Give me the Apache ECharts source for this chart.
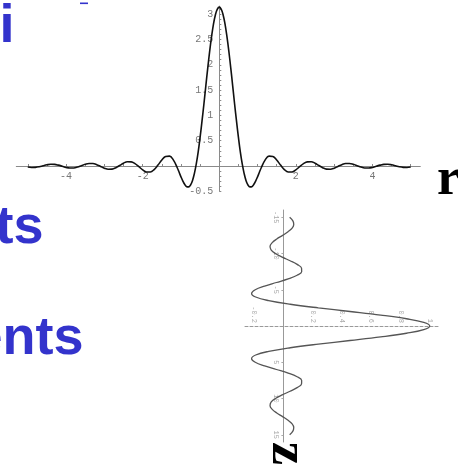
<!DOCTYPE html>
<html>
<head>
<meta charset="utf-8">
<script src="https://cdn.jsdelivr.net/npm/echarts@6/dist/echarts.min.js"></script>
<style>html,body{margin:0;padding:0;background:#fff;}#c{width:458px;height:469px;}</style>
</head>
<body>
<div id="c"></div>
<script>
// Top plot: radial profile f(r)
const rTop = [-5,-4.9,-4.8,-4.7,-4.6,-4.5,-4.4,-4.3,-4.2,-4.1,-4,-3.9,-3.8,-3.7,-3.6,-3.5,-3.4,-3.3,-3.2,-3.1,-3,-2.9,-2.8,-2.7,-2.6,-2.5,-2.4,-2.3,-2.2,-2.1,-2,-1.9,-1.8,-1.7,-1.6,-1.5,-1.4,-1.3,-1.2,-1.1,-1.05,-1,-0.95,-0.9,-0.85,-0.8,-0.75,-0.7,-0.65,-0.6,-0.55,-0.5,-0.45,-0.4,-0.35,-0.3,-0.25,-0.2,-0.15,-0.1,-0.05,
  0,0.05,0.1,0.15,0.2,0.25,0.3,0.35,0.4,0.45,0.5,0.55,0.6,0.65,0.7,0.75,0.8,0.85,0.9,0.95,1,1.05,1.1,1.2,1.3,1.4,1.5,1.6,1.7,1.8,1.9,2,2.1,2.2,2.3,2.4,2.5,2.6,2.7,2.8,2.9,3,3.1,3.2,3.3,3.4,3.5,3.6,3.7,3.8,3.9,4,4.1,4.2,4.3,4.4,4.5,4.6,4.7,4.8,4.9,5];
const fTop = [-0.020,-0.029,-0.027,-0.015,0.005,0.023,0.034,0.032,0.017,-0.005,-0.028,-0.041,-0.039,-0.021,0.007,0.034,0.050,0.048,0.026,-0.008,-0.043,-0.064,-0.061,-0.034,0.010,0.056,0.084,0.082,0.047,-0.013,-0.077,-0.119,-0.119,-0.070,0.019,0.118,0.189,0.196,0.121,-0.029,-0.120,-0.214,-0.298,-0.366,-0.408,-0.413,-0.375,-0.29,-0.15,0.04,0.28,0.57,0.89,1.23,1.59,1.94,2.27,2.56,2.81,2.99,3.10,
  3.14,3.10,2.99,2.81,2.56,2.27,1.94,1.59,1.23,0.89,0.57,0.28,0.04,-0.15,-0.29,-0.375,-0.413,-0.408,-0.366,-0.298,-0.214,-0.120,-0.029,0.121,0.196,0.189,0.118,0.019,-0.070,-0.119,-0.119,-0.077,-0.013,0.047,0.082,0.084,0.056,0.010,-0.034,-0.061,-0.064,-0.043,-0.008,0.026,0.048,0.050,0.034,0.007,-0.021,-0.039,-0.041,-0.028,-0.005,0.017,0.032,0.034,0.023,0.005,-0.015,-0.027,-0.029,-0.020];
const topXLabels = [-4,-2,2,4];
const topYLabels = [-0.5,0.5,1,1.5,2,2.5,3];
const topXTicks = [-5,-4.5,-4,-3.5,-3,-2.5,-2,-1.5,-1,-0.5,0.5,1,1.5,2,2.5,3,3.5,4,4.5,5];
const topYTicks = [-0.5,-0.4,-0.3,-0.2,-0.1,0.1,0.2,0.3,0.4,0.5,0.6,0.7,0.8,0.9,1,1.1,1.2,1.3,1.4,1.5,1.6,1.7,1.8,1.9,2,2.1,2.2,2.3,2.4,2.5,2.6,2.7,2.8,2.9,3,3.1];

// Rotated plot: axial profile along z
const zSide = [-15,-14.5,-14,-13.5,-13,-12.5,-12,-11.5,-11,-10.5,-10,-9.5,-9,-8.5,-8,-7.5,-7,-6.5,-6,-5.5,-5,-4.5,-4,-3.5,-3,-2.5,-2,-1.5,-1,-0.5,
  0,0.5,1,1.5,2,2.5,3,3.5,4,4.5,5,5.5,6,6.5,7,7.5,8,8.5,9,9.5,10,10.5,11,11.5,12,12.5,13,13.5,14,14.5,15];
const gSide = [0.043,0.065,0.071,0.060,0.032,-0.005,-0.045,-0.076,-0.091,-0.084,-0.054,-0.008,0.046,0.094,0.124,0.125,0.094,0.033,-0.047,-0.128,-0.192,-0.217,-0.189,-0.100,0.047,0.239,0.455,0.665,0.841,0.959,
  1,0.959,0.841,0.665,0.455,0.239,0.047,-0.100,-0.189,-0.217,-0.192,-0.128,-0.047,0.033,0.094,0.125,0.124,0.094,0.046,-0.008,-0.054,-0.084,-0.091,-0.076,-0.045,-0.005,0.032,0.060,0.071,0.065,0.043];
const sideValLabels = [-0.2,0.2,0.4,0.6,0.8,1];
const sideZLabels = [-15,-10,-5,5,10,15];

const chart = echarts.init(document.getElementById('c'), null, {renderer:'canvas'});
const gray = '#8a8a8a';
const mono = '"Liberation Mono", "DejaVu Sans Mono", monospace';
chart.setOption({
  animation: false,
  backgroundColor: '#ffffff',
  grid: [
    {left: 16.3, top: 6.1, width: 404, height: 185.2, containLabel: false, outerBoundsMode: 'none'},
    {left: 245, top: 210, width: 195, height: 232, containLabel: false, outerBoundsMode: 'none'}
  ],
  xAxis: [
    {gridIndex: 0, type: 'value', min: -5.3, max: 5.25, position: 'bottom', offset: -25.3,
     axisLine: {show: true, onZero: false, lineStyle: {color: gray, width: 1}},
     axisTick: {show: true, inside: true, length: 2, customValues: topXTicks, lineStyle: {color: gray}},
     axisLabel: {show: true, customValues: topXLabels, color: '#777', fontSize: 10, fontFamily: mono, margin: 5},
     splitLine: {show: false}},
    {gridIndex: 1, type: 'value', min: -0.262, max: 1.07, position: 'bottom', offset: -116,
     axisLine: {show: true, onZero: false, lineStyle: {color: '#999', width: 1, type: [3, 2]}},
     axisTick: {show: false},
     axisLabel: {show: true, inside: true, rotate: -90, customValues: sideValLabels, color: '#aaa', fontSize: 7, fontFamily: mono, margin: 3},
     splitLine: {show: false}}
  ],
  yAxis: [
    {gridIndex: 0, type: 'value', min: -0.5, max: 3.16, position: 'left', offset: -203,
     axisLine: {show: true, onZero: false, lineStyle: {color: gray, width: 1}},
     axisTick: {show: true, inside: true, length: 2, customValues: topYTicks, lineStyle: {color: gray}},
     axisLabel: {show: true, customValues: topYLabels, color: '#777', fontSize: 10, fontFamily: mono, margin: 6},
     splitLine: {show: false}},
    {gridIndex: 1, type: 'value', min: -16, max: 16, inverse: true, position: 'left', offset: -38.4,
     axisLine: {show: true, onZero: false, lineStyle: {color: '#999', width: 1}},
     axisTick: {show: true, length: 2, customValues: sideZLabels, lineStyle: {color: '#aaa'}},
     axisLabel: {show: true, rotate: -90, customValues: sideZLabels, color: '#aaa', fontSize: 7, fontFamily: mono, margin: 4},
     splitLine: {show: false}}
  ],
  series: [
    {type: 'line', xAxisIndex: 0, yAxisIndex: 0, showSymbol: false, smooth: 0.4, clip: false,
     lineStyle: {color: '#111', width: 1.6},
     data: rTop.map((r, i) => [r, fTop[i]])},
    {type: 'line', xAxisIndex: 1, yAxisIndex: 1, showSymbol: false, smooth: 0.4, clip: false,
     lineStyle: {color: '#555', width: 1.3},
     data: zSide.map((z, i) => [gSide[i], z])}
  ],
  graphic: [
    {type: 'text', x: 14.5, y: 27, style: {text: 'vi', fill: '#3333cc', font: 'bold 54px "Liberation Sans", Arial, sans-serif', textAlign: 'right', textVerticalAlign: 'middle'}},
    {type: 'rect', shape: {x: 80, y: 2.5, width: 8, height: 1.6}, style: {fill: '#3333cc'}},
    {type: 'text', x: 43.5, y: 228, style: {text: 'ts', fill: '#3333cc', font: 'bold 54px "Liberation Sans", Arial, sans-serif', textAlign: 'right', textVerticalAlign: 'middle'}},
    {type: 'text', x: 83.5, y: 339.5, style: {text: 'ents', fill: '#3333cc', font: 'bold 54px "Liberation Sans", Arial, sans-serif', textAlign: 'right', textVerticalAlign: 'middle'}},
    {type: 'text', x: 437, y: 181, style: {text: 'r', fill: '#000', font: 'bold 52px "Liberation Serif", "Times New Roman", serif', textAlign: 'left', textVerticalAlign: 'middle'}},
    {type: 'text', x: 286.5, y: 453.5, rotation: -Math.PI / 2, style: {text: 'z', fill: '#000', font: 'bold 52px "Liberation Serif", "Times New Roman", serif', textAlign: 'center', textVerticalAlign: 'middle'}}
  ]
});
</script>
</body>
</html>
